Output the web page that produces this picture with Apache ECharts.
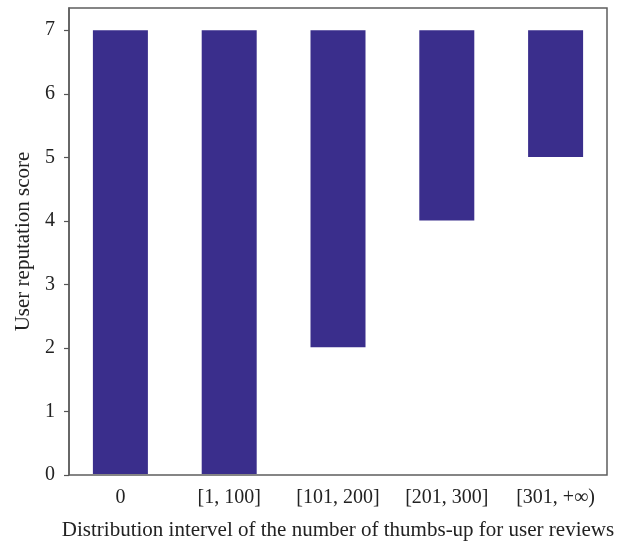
<!DOCTYPE html>
<html><head><meta charset="utf-8">
<script src="https://cdn.jsdelivr.net/npm/echarts@6/dist/echarts.min.js"></script>
<style>html,body{margin:0;padding:0;background:#fff}#c{width:637px;height:546px}</style>
</head><body><div id="c"></div>
<script>
const categories = ['0', '[1, 100]', '[101, 200]', '[201, 300]', '[301, +\u221e)'];
const barLow = [0, 0, 2, 4, 5];
const barHigh = [7, 7, 7, 7, 7];
const yTicks = [0, 1, 2, 3, 4, 5, 6, 7];

const font = '"Liberation Serif", "DejaVu Serif", serif';
const yMax = 7.35;
const chart = echarts.init(document.getElementById('c'));
chart.setOption({
  animation: false,
  grid: [
    { left: 69, right: 30, top: 8, bottom: 71, show: true, borderColor: '#5e5e5e', borderWidth: 1.5, backgroundColor: 'transparent' },
    { left: 66, right: 27, top: 8, bottom: 71 }
  ],
  xAxis: [
    { gridIndex: 0, type: 'category', data: categories, show: false },
    {
      gridIndex: 1, type: 'category', data: categories,
      axisLine: { show: false },
      axisTick: { alignWithLabel: true, length: 5, lineStyle: { color: '#555', width: 1.2 } },
      axisLabel: { color: '#222', fontFamily: font, fontSize: 20, margin: 14 },
      name: 'Distribution intervel of the number of thumbs-up for user reviews',
      nameLocation: 'middle', nameGap: 46,
      nameTextStyle: { color: '#222', fontFamily: font, fontSize: 21 }
    }
  ],
  yAxis: [
    {
      gridIndex: 0, type: 'value', min: 0, max: yMax, interval: 1,
      splitLine: { show: false },
      axisLine: { show: true, lineStyle: { color: '#5e5e5e', width: 1.5 } },
      axisTick: { show: true, length: 5, customValues: yTicks, lineStyle: { color: '#555', width: 1.2 } },
      axisLabel: { color: '#222', fontFamily: font, fontSize: 20, margin: 14, customValues: yTicks },
      name: 'User reputation score', nameLocation: 'middle', nameGap: 34,
      nameTextStyle: { color: '#222', fontFamily: font, fontSize: 21 }
    },
    { gridIndex: 1, type: 'value', min: 0, max: yMax, show: false, splitLine: { show: false } }
  ],
  series: [
    { type: 'bar', xAxisIndex: 1, yAxisIndex: 1, stack: 's', data: barLow, itemStyle: { color: 'transparent' }, barWidth: 55, silent: true },
    { type: 'bar', xAxisIndex: 1, yAxisIndex: 1, stack: 's', data: barHigh.map((h, i) => h - barLow[i]), itemStyle: { color: '#3a2e8c' }, barWidth: 55 }
  ]
});
</script></body></html>
